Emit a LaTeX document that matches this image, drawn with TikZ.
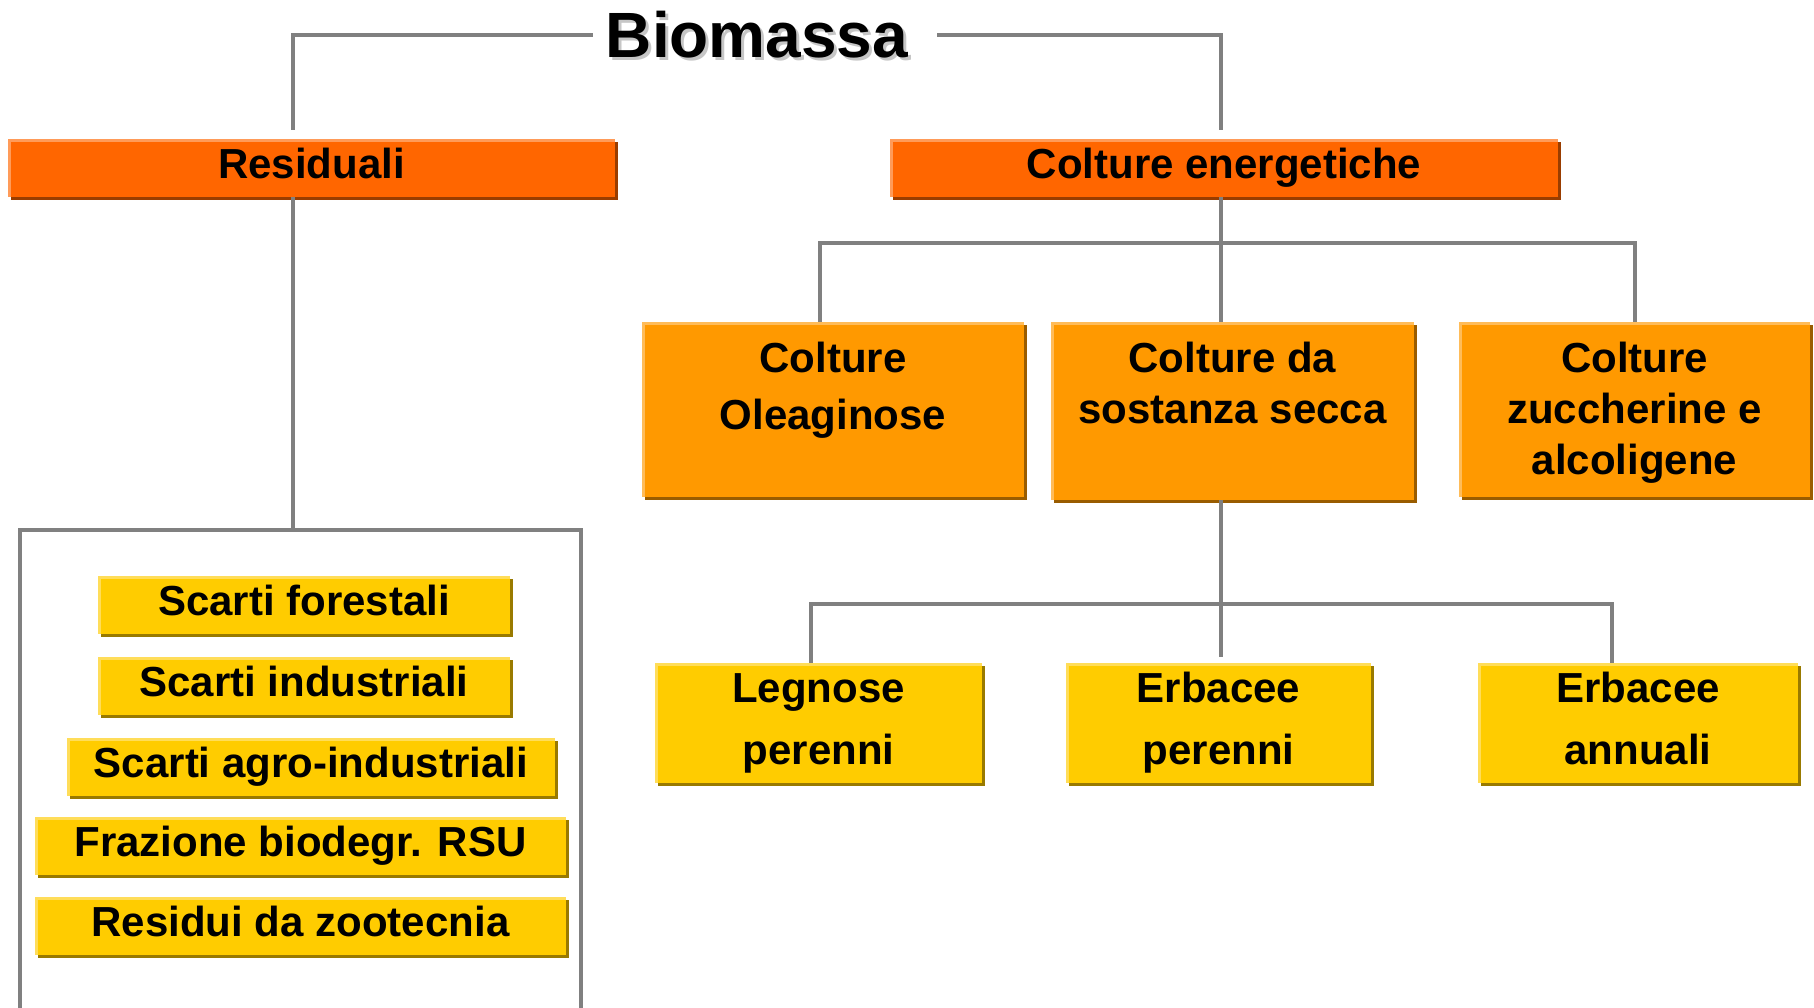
\documentclass[tikz,border=0pt]{standalone}
\usepackage{fontspec}
\setmainfont{Liberation Sans}
\usetikzlibrary{shadows}

\definecolor{linegray}{HTML}{808080}
\definecolor{resorange}{HTML}{FF6600}
\definecolor{resdark}{HTML}{993D00}
\definecolor{midorange}{HTML}{FF9900}
\definecolor{middark}{HTML}{995C00}
\definecolor{leafyellow}{HTML}{FFCC00}
\definecolor{leafdark}{HTML}{997A00}

\begin{document}
\begin{tikzpicture}[x=1pt, y=-1pt,
	conn/.style = {draw=linegray, line width=4pt},
	box/.style = {inner sep=0pt, align=center, font=\fontsize{42}{62}\selectfont\bfseries,
		path picture={\draw[white, opacity=0.35, line width=6pt]
			(path picture bounding box.south west) -- (path picture bounding box.north west)
			-- (path picture bounding box.north east);}},
	hdr/.style = {box, fill=resorange, minimum height=58pt, text height=30pt, text depth=9pt,
		drop shadow={shadow xshift=3pt, shadow yshift=-3pt, opacity=1, fill=resdark}},
	crop/.style = {box, fill=midorange,
		drop shadow={shadow xshift=3pt, shadow yshift=-3pt, opacity=1, fill=middark}},
	sub/.style = {box, fill=leafyellow,
		drop shadow={shadow xshift=3pt, shadow yshift=-3pt, opacity=1, fill=leafdark}},
	item/.style = {sub, minimum height=58pt, text height=30pt, text depth=9pt},
	lbl/.style = {anchor=north, inner sep=0pt, align=center, font=\fontsize{42}{51}\selectfont\bfseries}]
	\useasboundingbox (0,0) rectangle (1814,1007);

	\node[text=gray!45, font=\fontsize{64}{64}\selectfont\bfseries] at (760,38) {Biomassa};
	\node[inner xsep=13pt, inner ysep=0pt, font=\fontsize{64}{64}\selectfont\bfseries] (bio) at (757,35) {Biomassa};

	\node[hdr, minimum width=607pt] (res) at (311.5,168) {Residuali};
	\node[hdr, minimum width=668pt] (ener) at (1224,168) {Colture energetiche};

	\node[crop, minimum width=382pt, minimum height=175pt] (olea) at (833,409.5) {};
	\node[crop, minimum width=363pt, minimum height=178pt] (secca) at (1232.5,411) {};
	\node[crop, minimum width=351pt, minimum height=175pt] (zucc) at (1634.5,409.5) {};
	\node[lbl, font=\fontsize{42}{57}\selectfont\bfseries] at ([yshift=-20pt]olea.north) {Colture\\Oleaginose};
	\node[lbl] at ([yshift=-20pt]secca.north) {Colture da\\sostanza secca};
	\node[lbl] at ([yshift=-20pt]zucc.north) {Colture\\zuccherine e\\alcoligene};

	\node[sub, minimum width=327pt, minimum height=120pt] (legn) at (818.5,723) {Legnose\\perenni};
	\node[sub, minimum width=305pt, minimum height=120pt] (erbp) at (1218.5,723) {Erbacee\\perenni};
	\node[sub, minimum width=320pt, minimum height=120pt] (erba) at (1638,723) {Erbacee\\annuali\vphantom{p}};

	\node[item, minimum width=412pt] (sf) at (304,605) {Scarti forestali};
	\node[item, minimum width=412pt] (si) at (304,685.5) {Scarti industriali};
	\node[item, minimum width=488pt] (sa) at (311,767) {Scarti agro-industriali};
	\node[item, minimum width=531pt] (fr) at (300.5,846) {Frazione biodegr. RSU};
	\node[item, minimum width=531pt] (rz) at (300.5,926) {Residui da zootecnia};

	\coordinate (ptop) at (293,530);
	\coordinate (hub1) at (1221,243);
	\coordinate (hub2) at (1221,604);

	\draw[conn, shorten >=9pt] (bio.west) -| ([xshift=-18.5pt]res.north);
	\draw[conn, shorten >=9pt] ([xshift=16pt]bio.east) -| (hub1 |- ener.north);
	\draw[conn] (res.south -| ptop) -- (ptop);
	\draw[conn] (20,1030) |- (ptop) -| (581,1030);
	\draw[conn] (hub1 |- ener.south) -- (hub1 |- secca.north);
	\draw[conn] (hub1) -| ([xshift=-13pt]olea.north);
	\draw[conn] (hub1) -| (zucc.north);
	\draw[conn] (hub2 |- secca.south) -- (hub2);
	\draw[conn, shorten >=6pt] (hub2) -- (hub2 |- erbp.north);
	\draw[conn] (hub2) -| ([xshift=-8pt]legn.north);
	\draw[conn] (hub2) -| ([xshift=-26pt]erba.north);
\end{tikzpicture}
\end{document}
